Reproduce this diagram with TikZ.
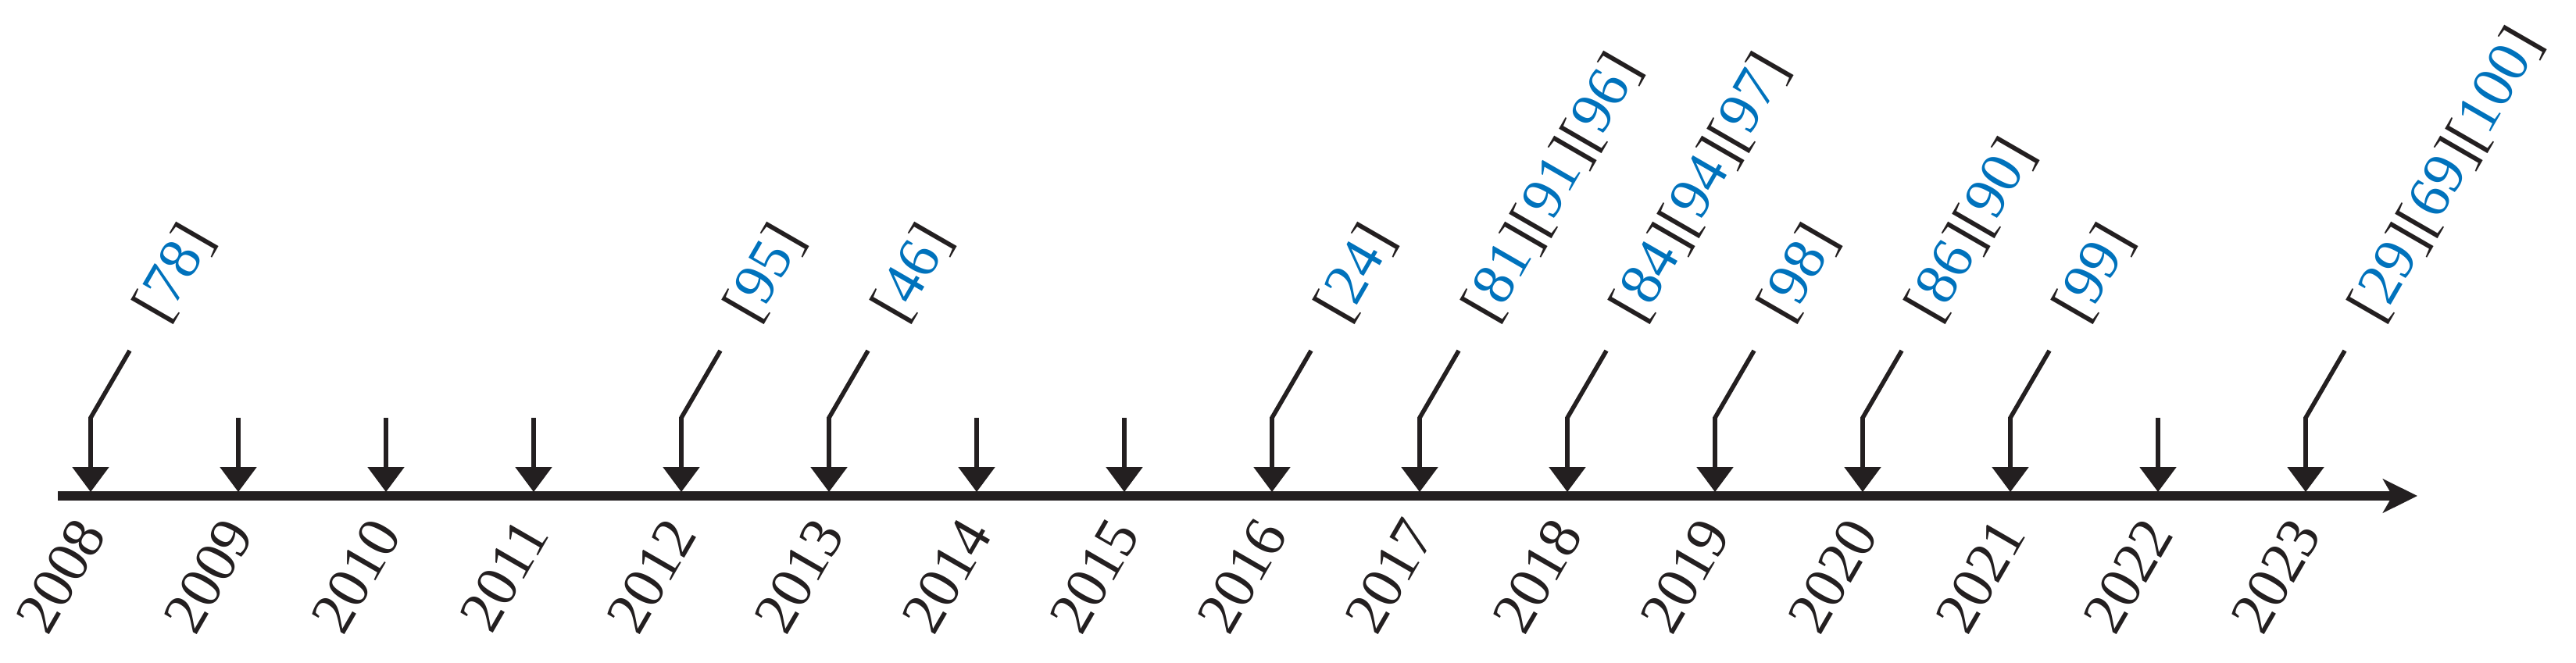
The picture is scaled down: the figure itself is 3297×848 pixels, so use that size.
\documentclass[tikz,border=0pt]{standalone}
\usepackage{fontspec}
\setmainfont{Liberation Serif}
\usetikzlibrary{arrows.meta,calc}
\definecolor{refblue}{RGB}{0,114,188}
\definecolor{ink}{RGB}{35,31,32}
\newcommand\refn[1]{\textcolor{refblue}{#1}}
\begin{document}
\begin{tikzpicture}[x=0.25pt,y=-0.25pt,
  lbl/.style={font=\fontsize{19pt}{19pt}\selectfont, inner sep=0pt, rotate=60, text=ink},
  yearlbl/.style={lbl, anchor=east},
  reflbl/.style={lbl, anchor=base west},
  axis/.style={draw=ink, line width=2.85pt, -{Stealth[length=11pt,width=10.75pt,inset=3pt]}},
  tickarrow/.style={draw=ink, line width=1.4pt, -{Triangle[length=8pt,width=11.5pt]}},
  ]
\useasboundingbox (0,0) rectangle (3297,848);
\coordinate (start) at (74,635);
\coordinate (end) at (3094,635);
\draw[axis] (start) -- (end);
\foreach \y [count=\i from 0] in {2008,...,2023} {
  \coordinate (t\y) at ({116+189*\i},630);
  \coordinate (s\y) at ({116+189*\i},535);
  \node[yearlbl] (y\y) at ({116+189*\i},671) {\y};
}
\foreach \y in {2009,2010,2011,2014,2015,2022}
  \draw[tickarrow] (s\y) -- (t\y);
\foreach \y/\r in {2008/{[\refn{78}]},2012/{[\refn{95}]},2013/{[\refn{46}]},2016/{[\refn{24}]},2017/{[\refn{81}][\refn{91}][\refn{96}]},2018/{[\refn{84}][\refn{94}][\refn{97}]},2019/{[\refn{98}]},2020/{[\refn{86}][\refn{90}]},2021/{[\refn{99}]},2023/{[\refn{29}][\refn{69}][\refn{100}]}} {
  \coordinate (k\y) at ($(s\y)+(50,-86)$);
  \draw[tickarrow] (k\y) -- (s\y) -- (t\y);
  \node[reflbl] (r\y) at ($(k\y)+(44,-33)$) {\r};
}
\end{tikzpicture}
\end{document}
